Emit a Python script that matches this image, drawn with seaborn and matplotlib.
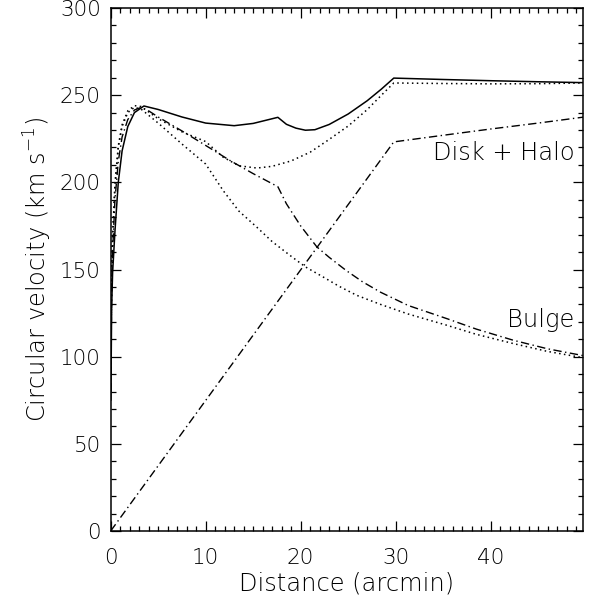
import matplotlib
matplotlib.use("Agg")
import matplotlib.pyplot as plt
import numpy as np
import pandas as pd
import seaborn as sns
from matplotlib.ticker import MultipleLocator

# ---------------- data ----------------
x_total = [0.02, 0.1, 0.2, 0.45, 0.8, 1.2, 1.8, 2.5, 3.5, 5, 7.5, 10, 13, 15,
           17.6, 18.5, 19.5, 20.5, 21.5, 23, 25, 27, 28.5, 29.8, 35, 40, 45, 49.75]
v_total = [75, 128, 148, 172, 200, 218, 232, 240, 243.8, 241.8, 237.5, 234, 232.5, 233.8,
           237.3, 233.3, 231.1, 229.9, 230.2, 233.2, 239.2, 246.8, 253.5, 259.8, 259.0, 258.3, 257.7, 257.2]

x_total2 = [0.02, 0.1, 0.2, 0.45, 0.8, 1.2, 1.8, 2.5, 3.2, 5, 7.5, 10, 11.85, 13.5, 15.4,
            17, 19, 21, 22.7, 25, 27, 28.5, 29.8, 35, 40, 45, 49.75]
v_total2 = [90, 151, 169, 199, 221, 233, 241, 244, 243.5, 236.5, 229, 223.4, 214.4, 209.5, 208.2,
            209.2, 212.3, 217.3, 223.5, 232.3, 241.7, 250, 257, 256.7, 256.5, 256.6, 257]

x_bulge1 = [0.02, 0.1, 0.2, 0.45, 0.8, 1.2, 1.8, 2.5, 3.2, 4, 5, 7.5, 9.75, 12.6, 15, 17.6,
            18.5, 20, 21.7, 23, 24.8, 26.5, 28.4, 31.3, 35.4, 38.5, 42.4, 46, 49.75]
v_bulge1 = [80, 140, 160, 190, 212, 226, 236, 241.5, 243, 241, 237.5, 229.5, 222, 212.4, 205, 197.5,
            187.7, 175, 163, 157, 149.4, 143, 137, 129.4, 121.8, 115.8, 109.4, 104.5, 100.6]

x_bulge2 = [0.02, 0.1, 0.2, 0.45, 0.8, 1.2, 1.8, 2.5, 3.2, 5, 7.5, 10, 11.85, 13.5, 15.4, 17,
            18.9, 20.5, 22.4, 24, 25.9, 28.4, 31.3, 35.4, 38.5, 42.4, 46, 49.75]
v_bulge2 = [90, 150, 168, 198, 220, 232, 240, 243, 242, 234, 222, 210.5, 195.2, 183.5, 174.2, 166,
            158, 151.5, 145.6, 140.5, 135.2, 130, 124.5, 118, 112.8, 107.5, 103, 99.4]

x_disk = [0, 10, 20, 29.8, 35, 40, 45, 49.75]
v_disk = [0, 74.9, 149.8, 223.2, 227, 230.6, 234, 237.4]

x_ticks = [0, 10, 20, 30, 40]
y_ticks = [0, 50, 100, 150, 200, 250, 300]
label_disk = "Disk + Halo"
label_bulge = "Bulge"

# ---------------- style ----------------
sns.set_style("ticks")
plt.rcParams['font.family'] = ['DejaVu Sans']
plt.rcParams['mathtext.default'] = 'regular'
plt.rcParams['text.color'] = 'black'
plt.rcParams['axes.labelcolor'] = 'black'
plt.rcParams['xtick.color'] = 'black'
plt.rcParams['ytick.color'] = 'black'
plt.rcParams['font.size'] = 16

FS_TICK = 15.5
FS = 17.4

fig = plt.figure(figsize=(5.97, 6.03), dpi=100)
ax = fig.add_axes([0.1854, 0.1194, 0.977 - 0.1854, 0.9867 - 0.1194])

dotted = (0, (1, 2.2))
dashdot = (0, (6, 2.5, 1, 2.5))

sns.lineplot(x=x_total, y=v_total, ax=ax, color='black', lw=1.1,
             linestyle='-', estimator=None, sort=False)
sns.lineplot(x=x_total2, y=v_total2, ax=ax, color='black', lw=1.1,
             linestyle=dotted, estimator=None, sort=False)
sns.lineplot(x=x_bulge1, y=v_bulge1, ax=ax, color='black', lw=1.0,
             linestyle=dashdot, estimator=None, sort=False)
sns.lineplot(x=x_bulge2, y=v_bulge2, ax=ax, color='black', lw=1.1,
             linestyle=dotted, estimator=None, sort=False)
sns.lineplot(x=x_disk, y=v_disk, ax=ax, color='black', lw=1.0,
             linestyle=dashdot, estimator=None, sort=False)

ax.set_xlim(0, 49.75)
ax.set_ylim(0, 300)
ax.set_xticks(x_ticks)
ax.set_yticks(y_ticks)
ax.xaxis.set_minor_locator(MultipleLocator(1))
ax.yaxis.set_minor_locator(MultipleLocator(10))
ax.tick_params(which='both', direction='in', top=True, right=True,
               color='black', width=0.9)
ax.tick_params(which='major', length=7)
ax.tick_params(which='minor', length=3.3)
ax.tick_params(axis='x', which='major', pad=12, labelsize=FS_TICK)
ax.tick_params(axis='y', which='major', pad=7, labelsize=FS_TICK)
for lab in ax.get_xticklabels() + ax.get_yticklabels():
    lab.set_fontweight('light')
for s in ax.spines.values():
    s.set_linewidth(1.1)
    s.set_color('black')

ax.set_xlabel("Distance (arcmin)", fontsize=FS, labelpad=3, fontweight='light')
ax.set_ylabel("Circular velocity (km s$^{-1}$)", fontsize=FS, labelpad=4, fontweight='light')

ax.text(48.8, 217, label_disk, ha='right', va='center', fontsize=FS, fontweight='light')
ax.text(48.8, 121, label_bulge, ha='right', va='center', fontsize=FS, fontweight='light')

fig.savefig("out.png", dpi=100)
